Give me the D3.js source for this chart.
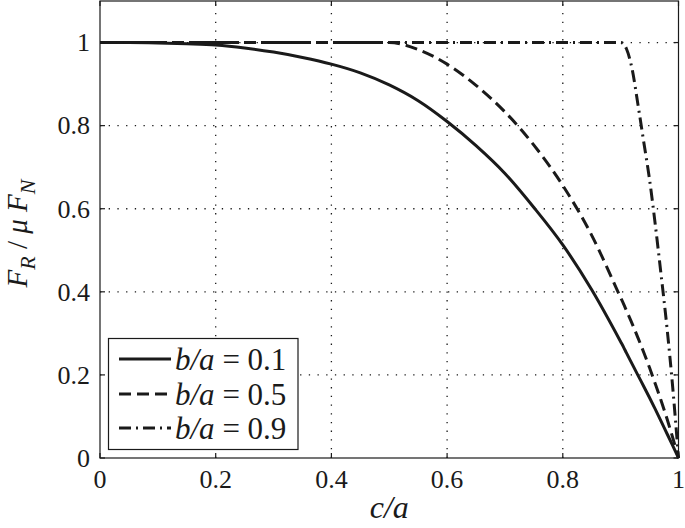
<!DOCTYPE html>
<html>
<head>
<meta charset="utf-8">
<script src="https://cdn.jsdelivr.net/npm/d3@7"></script>
<style>
  html, body { margin: 0; padding: 0; background: #fff; }
  svg { display: block; }
  svg text { font-family: "Liberation Serif", "Times New Roman", Times, serif; }
</style>
</head>
<body>
<svg id="chart"></svg>
<script>
// c/a sample points shared by all three curves
const cOverA = [0, 0.05, 0.1, 0.15, 0.2, 0.25, 0.3, 0.35, 0.4, 0.45, 0.5, 0.55, 0.6, 0.65, 0.7, 0.75, 0.8, 0.85, 0.9,
                0.905, 0.91, 0.92, 0.93, 0.94, 0.95, 0.96, 0.97, 0.98, 0.99, 1];
// F_R / mu F_N for each b/a
const ratio01 = [1, 1, 0.999, 0.997, 0.994, 0.987, 0.977, 0.964, 0.948, 0.927, 0.898, 0.86, 0.81, 0.752, 0.685, 0.603, 0.513, 0.405, 0.28,
                 0.267, 0.253, 0.226, 0.199, 0.172, 0.145, 0.117, 0.088, 0.059, 0.03, 0];
const ratio05 = [1, 1, 1, 1, 1, 1, 1, 1, 1, 1, 1, 0.983, 0.948, 0.897, 0.833, 0.753, 0.656, 0.536, 0.386,
                 0.371, 0.355, 0.323, 0.289, 0.254, 0.217, 0.178, 0.138, 0.095, 0.049, 0];
const ratio09 = [1, 1, 1, 1, 1, 1, 1, 1, 1, 1, 1, 1, 1, 1, 1, 1, 1, 1, 1,
                 0.997, 0.985, 0.935, 0.85, 0.76, 0.67, 0.56, 0.44, 0.315, 0.17, 0];
const seriesLabels = ["0.1", "0.5", "0.9"];
const xTicks = [0, 0.2, 0.4, 0.6, 0.8, 1];
const yTicks = [0, 0.2, 0.4, 0.6, 0.8, 1];

const W = 685, H = 528;
const pLeft = 100, pRight = 678.5, pTop = 1, pBottom = 458;
const ink = "#1a1a1a";

const svg = d3.select("#chart").attr("width", W).attr("height", H);

const x = d3.scaleLinear([0, 1], [pLeft, pRight]);
const y = d3.scaleLinear([0, 1.1], [pBottom, pTop]);

// grid
const grid = svg.append("g").attr("stroke", ink).attr("stroke-width", 1.3)
  .attr("stroke-dasharray", "1.3,7.4");
grid.selectAll(".gx").data(xTicks.slice(1, -1)).join("line")
  .attr("x1", d => x(d)).attr("x2", d => x(d)).attr("y1", pBottom).attr("y2", pTop);
grid.selectAll(".gy").data(yTicks.slice(1)).join("line")
  .attr("y1", d => y(d)).attr("y2", d => y(d)).attr("x1", pLeft).attr("x2", pRight);

// curves
const styles = [
  {vals: ratio01, dash: null},
  {vals: ratio05, dash: "12,6"},
  {vals: ratio09, dash: "12,5,2,5"}
];
const line = d3.line().x(d => x(d[0])).y(d => y(d[1])).curve(d3.curveMonotoneX);
svg.append("g").selectAll("path").data(styles).join("path")
  .attr("d", s => line(cOverA.map((c, i) => [c, s.vals[i]])))
  .attr("fill", "none").attr("stroke", ink).attr("stroke-width", 3)
  .attr("stroke-dasharray", s => s.dash);

// frame and ticks (box style, ticks inside on all sides)
const frame = svg.append("g").attr("stroke", ink).attr("stroke-width", 1.2);
frame.append("rect").attr("x", pLeft).attr("y", pTop)
  .attr("width", pRight - pLeft).attr("height", pBottom - pTop).attr("fill", "none");
const tk = 5;
frame.selectAll(".tb").data(xTicks).join("line")
  .attr("x1", d => x(d)).attr("x2", d => x(d)).attr("y1", pBottom).attr("y2", pBottom - tk);
frame.selectAll(".tt").data(xTicks).join("line")
  .attr("x1", d => x(d)).attr("x2", d => x(d)).attr("y1", pTop).attr("y2", pTop + tk);
frame.selectAll(".tl").data(yTicks).join("line")
  .attr("y1", d => y(d)).attr("y2", d => y(d)).attr("x1", pLeft).attr("x2", pLeft + tk);
frame.selectAll(".tr").data(yTicks).join("line")
  .attr("y1", d => y(d)).attr("y2", d => y(d)).attr("x1", pRight).attr("x2", pRight - tk);

// tick labels
svg.append("g").attr("font-size", 26).attr("fill", ink).attr("text-anchor", "middle")
  .selectAll("text").data(xTicks).join("text")
  .attr("x", d => x(d)).attr("y", 488).text(d => d3.format("~g")(d));
svg.append("g").attr("font-size", 26).attr("fill", ink).attr("text-anchor", "end")
  .selectAll("text").data(yTicks).join("text")
  .attr("x", 90).attr("y", d => y(d)).attr("dy", "0.34em").text(d => d3.format("~g")(d));

// axis labels
svg.append("text").attr("x", x(0.5)).attr("y", 518).attr("text-anchor", "middle")
  .attr("font-size", 32).attr("font-style", "italic").attr("fill", ink).text("c/a");

const yl = svg.append("text").attr("transform", `translate(27,${(pTop + pBottom) / 2 + 4}) rotate(-90)`)
  .attr("text-anchor", "middle").attr("font-size", 29).attr("fill", ink);
yl.append("tspan").attr("font-style", "italic").text("F");
yl.append("tspan").attr("font-style", "italic").attr("font-size", 22).attr("dy", 8).text("R");
yl.append("tspan").attr("dy", -8).text(" / ");
yl.append("tspan").attr("font-style", "italic").text("μ F");
yl.append("tspan").attr("font-style", "italic").attr("font-size", 22).attr("dy", 8).text("N");

// legend
const lg = svg.append("g");
lg.append("rect").attr("x", 108.5).attr("y", 338.5).attr("width", 189.5).attr("height", 111)
  .attr("fill", "#fff").attr("stroke", ink).attr("stroke-width", 1.2);
const rowY = [359, 394, 428];
const rows = lg.selectAll(".row").data(styles).join("g")
  .attr("transform", (d, i) => `translate(0,${rowY[i]})`);
rows.append("line").attr("x1", 119).attr("x2", 171).attr("y1", 0).attr("y2", 0)
  .attr("stroke", ink).attr("stroke-width", 3).attr("stroke-dasharray", s => s.dash);
const lt = rows.append("text").attr("x", 175).attr("dy", "0.34em")
  .attr("font-size", 31).attr("fill", ink);
lt.append("tspan").attr("font-style", "italic").text("b/a");
lt.append("tspan").text((d, i) => " = " + seriesLabels[i]);
</script>
</body>
</html>
